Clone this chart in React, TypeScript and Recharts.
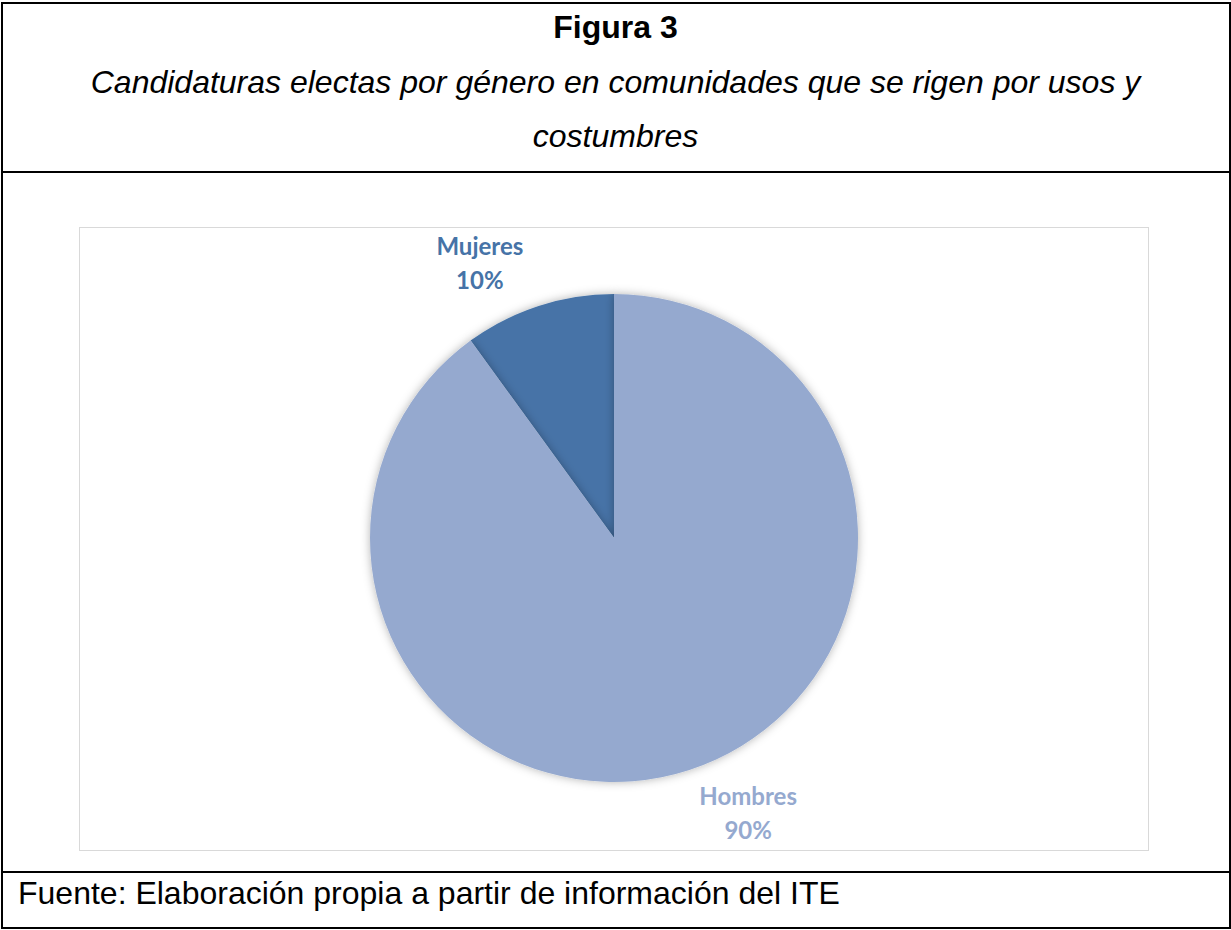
import { PieChart, Pie, Cell } from "recharts"

const categories = ["Mujeres", "Hombres"]
const shares = [10, 90]
const sliceColors = ["#4673A7", "#95A9CF"]

const pieData = categories.map((name, i) => ({ name, value: shares[i] }))

const RADIAN = Math.PI / 180

// Excel's best-fit labels sit a little past the middle of each slice
const renderLabel = (props: any) => {
  const { cx, cy, midAngle, outerRadius, index, name, percent } = props
  const angle = (midAngle + 8) * RADIAN
  const r = outerRadius + 62
  const x = cx + r * Math.cos(angle)
  const y = cy - r * Math.sin(angle)
  return (
    <text
      x={x}
      y={y}
      textAnchor="middle"
      fill={sliceColors[index]}
      fontFamily="Lato, 'Open Sans', sans-serif"
      fontWeight={700}
      fontSize={24}
    >
      <tspan x={x} dy={-8}>{name}</tspan>
      <tspan x={x} dy={34}>{`${Math.round(percent * 100)}%`}</tspan>
    </text>
  )
}

export default function App() {
  return (
    <div
      style={{
        position: "absolute",
        left: 0,
        top: 0,
        width: 1231,
        height: 930,
        background: "#fff",
        fontFamily: "'Liberation Sans', Arial, sans-serif",
        color: "#000",
      }}
    >
      {/* outer frame of the table */}
      <div
        style={{
          position: "absolute",
          left: 1,
          top: 2,
          width: 1226,
          height: 923,
          border: "2px solid #000",
        }}
      />
      <div style={{ position: "absolute", left: 1, top: 171, width: 1230, height: 2, background: "#000" }} />
      <div style={{ position: "absolute", left: 1, top: 871, width: 1230, height: 2, background: "#000" }} />

      <div
        style={{
          position: "absolute",
          left: 0,
          top: 7,
          width: 1231,
          textAlign: "center",
          fontWeight: 700,
          fontSize: 32,
          lineHeight: "40px",
        }}
      >
        Figura 3
      </div>
      <div
        style={{
          position: "absolute",
          left: 0,
          top: 55,
          width: 1231,
          textAlign: "center",
          fontStyle: "italic",
          fontSize: 32,
          lineHeight: "54px",
        }}
      >
        Candidaturas electas por género en comunidades que se rigen por usos y
        <br />
        costumbres
      </div>

      <div
        style={{
          position: "absolute",
          left: 79,
          top: 227,
          width: 1070,
          height: 624,
          border: "1.5px solid #d9d9d9",
          boxSizing: "border-box",
        }}
      >
        <PieChart width={1067} height={621} margin={{ top: 0, right: 0, bottom: 0, left: 0 }}>
          <defs>
            <filter id="pieShadow" x="-20%" y="-20%" width="140%" height="140%">
              <feDropShadow dx="0" dy="0" stdDeviation="5" floodColor="#000" floodOpacity="0.3" />
            </filter>
          </defs>
          <Pie
            data={pieData}
            dataKey="value"
            nameKey="name"
            cx={534}
            cy={310}
            outerRadius={244}
            startAngle={90}
            endAngle={450}
            stroke="none"
            label={renderLabel}
            labelLine={false}
            isAnimationActive={false}
            style={{ filter: "url(#pieShadow)" }}
          >
            {pieData.map((d, i) => (
              <Cell key={d.name} fill={sliceColors[i]} />
            ))}
          </Pie>
        </PieChart>
      </div>

      <div
        style={{
          position: "absolute",
          left: 18,
          top: 873,
          fontSize: 32,
          lineHeight: "40px",
        }}
      >
        Fuente: Elaboración propia a partir de información del ITE
      </div>
    </div>
  )
}
